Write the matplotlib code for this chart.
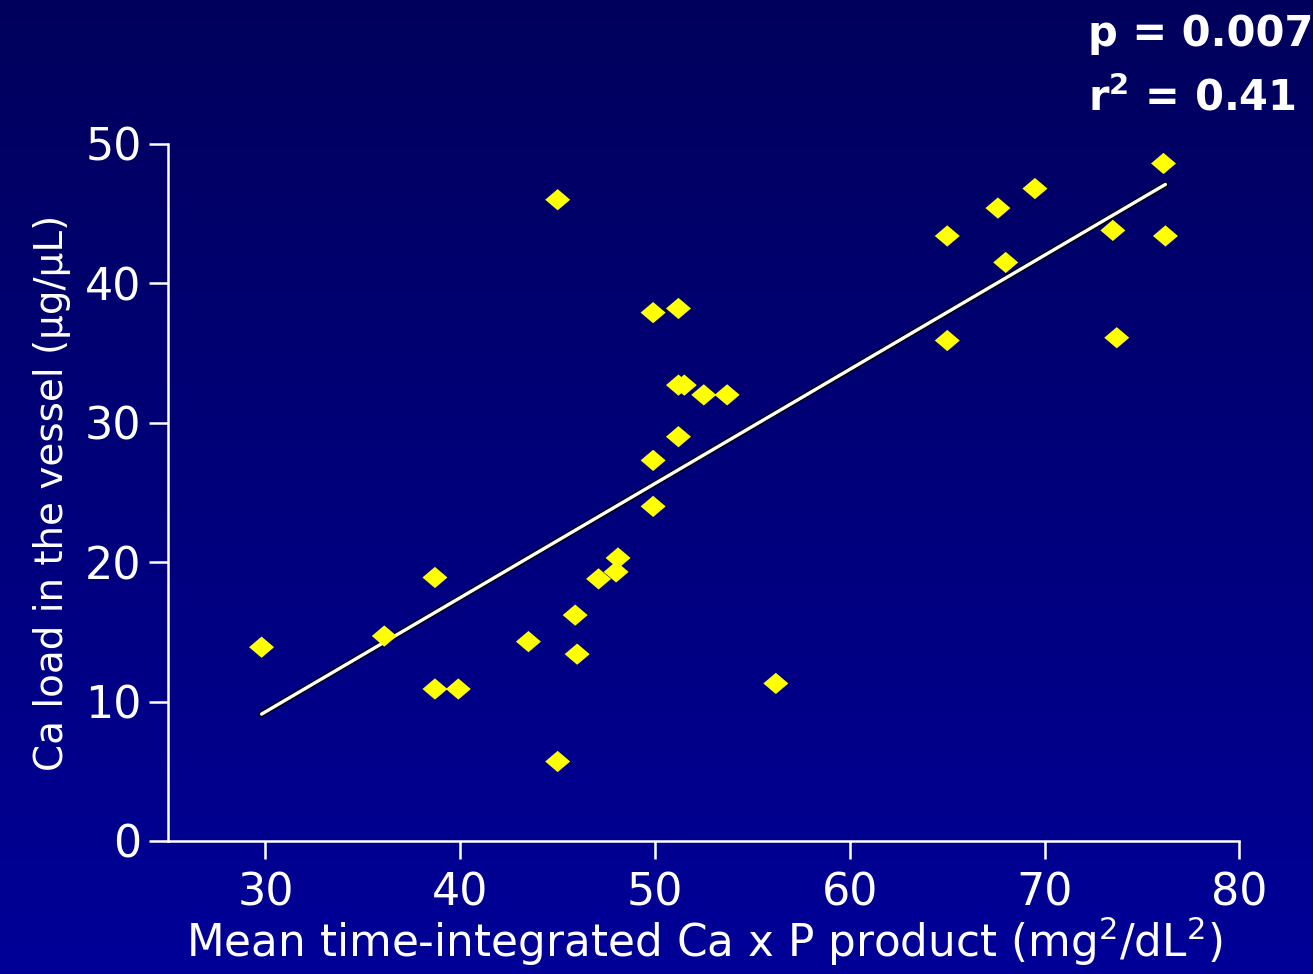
import numpy as np
import matplotlib
matplotlib.use("Agg")
import matplotlib.pyplot as plt
import matplotlib.patheffects as pe
from matplotlib.colors import LinearSegmentedColormap

# Data
ca_p_product = [29.8, 36.1, 38.7, 38.7, 39.9, 43.5, 45.0, 45.0, 45.9, 46.0,
                47.1, 48.1, 48.0, 49.9, 51.2, 51.2, 51.5, 52.5, 53.7, 51.2,
                49.9, 49.9, 56.2, 65.0, 65.0, 67.6, 68.0, 69.5, 73.5, 73.7,
                76.1, 76.2]
ca_load = [13.9, 14.7, 18.9, 10.9, 10.9, 14.3, 46.0, 5.7, 16.2, 13.4,
           18.8, 20.3, 19.3, 37.9, 38.2, 32.7, 32.7, 32.0, 32.0, 29.0,
           27.3, 24.0, 11.3, 43.4, 35.9, 45.4, 41.5, 46.8, 43.8, 36.1,
           48.6, 43.4]
fit_x = [29.8, 76.2]
fit_y = [9.1, 47.1]
x_ticks = [30, 40, 50, 60, 70, 80]
y_ticks = [0, 10, 20, 30, 40, 50]

plt.rcParams['font.family'] = ['DejaVu Sans']

fig = plt.figure(figsize=(13.13, 9.74), dpi=100)

# gradient background
bg = fig.add_axes([0, 0, 1, 1], zorder=-10)
cmap = LinearSegmentedColormap.from_list('bg', ['#00005c', '#000098'])
grad = np.linspace(0, 1, 256).reshape(-1, 1)
bg.imshow(grad, aspect='auto', cmap=cmap, extent=[0, 1, 0, 1], origin='upper')
bg.set_axis_off()

ax = fig.add_axes([0.128, 0.1366, 0.816, 0.7156])
ax.patch.set_alpha(0)
ax.set_xlim(25, 80)
ax.set_ylim(0, 50)

for s in ['top', 'right']:
    ax.spines[s].set_visible(False)
for s in ['left', 'bottom']:
    ax.spines[s].set_color('white')
    ax.spines[s].set_linewidth(1.8)

ax.set_xticks(x_ticks)
ax.set_yticks(y_ticks)
ax.tick_params(axis='both', colors='white', labelsize=32, width=1.8, length=14,
               direction='out', pad=5)
ax.tick_params(axis='x', length=13, pad=9)

diamond = [(-1, 0), (0, 0.85), (1, 0), (0, -0.85)]
ax.plot(fit_x, fit_y, color='white', lw=2.4, solid_capstyle='round', zorder=2,
        path_effects=[pe.Stroke(linewidth=4.4, foreground='black'), pe.Normal()])
ax.scatter(ca_p_product, ca_load, marker=diamond, s=18**2, color='#ffff00',
           edgecolors='none', zorder=3, clip_on=False)

ax.set_xlabel('Mean time-integrated Ca x P product (mg$^2$/dL$^2$)',
              color='white', fontsize=31.5, labelpad=0)
ax.set_ylabel('Ca load in the vessel (μg/μL)', color='white', fontsize=28, labelpad=10)

fig.text(0.829, 0.953, 'p = 0.007', color='white', fontsize=30, fontweight='bold',
         ha='left', va='baseline')
fig.text(0.829, 0.887, 'r$^{\\mathbf{2}}$ = 0.41', color='white', fontsize=30,
         fontweight='bold', ha='left', va='baseline')

fig.savefig('out.png', dpi=100)
